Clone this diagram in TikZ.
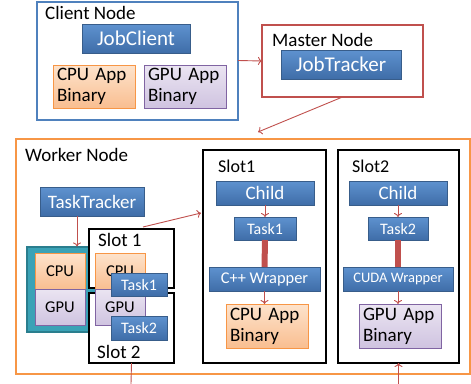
\documentclass[tikz,border=0pt]{standalone}
\usepackage{fontspec}
\setmainfont{Carlito}
\usetikzlibrary{arrows.meta,shadows}
\definecolor{bluef}{HTML}{4F81BD}
\definecolor{bluet}{HTML}{5E92CF}
\definecolor{blueb}{HTML}{3F6DA8}
\definecolor{bluedraw}{HTML}{385D8A}
\definecolor{redl}{HTML}{C0504D}
\definecolor{orl}{HTML}{F79646}
\definecolor{ort}{HTML}{FDE3CC}
\definecolor{orb}{HTML}{F9BE90}
\definecolor{pul}{HTML}{8064A2}
\definecolor{put}{HTML}{EBE5F2}
\definecolor{pub}{HTML}{CFC3E0}
\definecolor{tealf}{HTML}{3AA2B6}
\definecolor{teald}{HTML}{2A7E8E}
\tikzset{
  x=1pt, y=-1pt,
  box/.style={rectangle, inner sep=0pt, outer sep=0pt, minimum width=#1},
  frame/.style={rectangle, inner sep=0pt, outer sep=0pt, line width=2pt, fill=white},
  bluebox/.style={rectangle, inner sep=0pt, outer sep=0pt, draw=bluedraw, line width=0.8pt,
    top color=bluet, bottom color=blueb, text=white,
    drop shadow={shadow xshift=1.2pt, shadow yshift=-1.2pt, opacity=0.35}},
  orbox/.style={rectangle, inner sep=0pt, outer sep=0pt, draw=orl, line width=0.8pt,
    top color=ort, bottom color=orb, text=black},
  pubox/.style={rectangle, inner sep=0pt, outer sep=0pt, draw=pul, line width=0.8pt,
    top color=put, bottom color=pub, text=black},
  binbox/.style={align=left, text width=#1, font=\fontsize{19}{21}\selectfont},
  lbl/.style={anchor=base west, inner sep=0pt, font=\fontsize{19}{22}\selectfont},
  arr/.style={draw=redl, line width=0.9pt, -{To[length=4pt,width=8pt]}},
  ln/.style={draw=redl, line width=0.9pt},
}
\begin{document}
\begin{tikzpicture}
\useasboundingbox (0,0) rectangle (471,383);
% Client node
\node[frame, draw=bluef, minimum width=201, minimum height=118] (client) at (137.5,60.5) {};
\node[lbl] (clientlbl) at (45,19) {Client Node};
\node[bluebox, minimum width=108, minimum height=29, font=\fontsize{21}{24}\selectfont] (jobclient) at (136,38.5) {JobClient};
\node[orbox, minimum width=82, minimum height=43, binbox=74pt] (cpuA) at (94,86.5) {CPU App\\Binary};
\node[pubox, minimum width=82, minimum height=43, binbox=74pt] (gpuA) at (185,86.5) {GPU App\\Binary};
% Master node
\node[frame, draw=redl, minimum width=161, minimum height=72] (master) at (342.5,61) {};
\node[lbl] (masterlbl) at (272,46) {Master Node};
\node[bluebox, minimum width=120, minimum height=29, font=\fontsize{21}{24}\selectfont] (jobtracker) at (341,64.5) {JobTracker};
% Worker node
\node[frame, draw=orl, minimum width=454, minimum height=235] (worker) at (243,256.5) {};
\node[lbl] (workerlbl) at (25,161) {Worker Node};
\node[bluebox, minimum width=104, minimum height=29, font=\fontsize{19}{22}\selectfont] (tt) at (92,201.5) {TaskTracker};
% teal machine
\node[rectangle, draw=teald, fill=tealf, line width=1.2pt, minimum width=123, minimum height=85, inner sep=0pt] (teal) at (88.5,289.5) {};
\node[orbox, minimum width=50, minimum height=36, font=\fontsize{16.5}{18}\selectfont] (cpuL) at (60,271) {CPU};
\node[pubox, minimum width=50, minimum height=36, font=\fontsize{16.5}{18}\selectfont] (gpuL) at (60,307) {GPU};
% small slots
\node[frame, draw=black, minimum width=85, minimum height=59] (slot1s) at (131.5,258.5) {};
\node[frame, draw=black, minimum width=85, minimum height=70] (slot2s) at (131.5,328) {};
\node[lbl] (slot1lbl) at (98,246) {Slot 1};
\node[lbl] (slot2lbl) at (97,358) {Slot 2};
\node[orbox, minimum width=50, minimum height=36, font=\fontsize{16.5}{18}\selectfont] (cpuR) at (120,271) {CPU};
\node[pubox, minimum width=50, minimum height=36, font=\fontsize{16.5}{18}\selectfont] (gpuR) at (120,307) {GPU};
\node[bluebox, minimum width=56, minimum height=23, font=\fontsize{16}{18}\selectfont] (task1s) at (139,284.5) {Task1};
\node[bluebox, minimum width=56, minimum height=24, font=\fontsize{16}{18}\selectfont] (task2s) at (139,328) {Task2};
% big slot 1
\node[frame, draw=black, minimum width=123, minimum height=213] (bs1) at (264.5,256.5) {};
\node[lbl, font=\fontsize{18}{21}\selectfont] (bs1lbl) at (218,172) {Slot1};
\node[bluebox, minimum width=98, minimum height=24, font=\fontsize{19}{22}\selectfont] (child1) at (265,193) {Child};
\node[bluebox, minimum width=62, minimum height=23, font=\fontsize{16}{18}\selectfont] (task1b) at (265,228.5) {Task1};
\node[bluebox, minimum width=111, minimum height=24, font=\fontsize{16.4}{18}\selectfont] (wrap1) at (264.5,279) {C++ Wrapper};
\node[orbox, minimum width=82, minimum height=44, binbox=74pt] (bin1) at (267,326) {CPU App\\Binary};
% big slot 2
\node[frame, draw=black, minimum width=121, minimum height=213] (bs2) at (398.5,256.5) {};
\node[lbl, font=\fontsize{18}{21}\selectfont] (bs2lbl) at (352,172) {Slot2};
\node[bluebox, minimum width=98, minimum height=24, font=\fontsize{19}{22}\selectfont] (child2) at (398,193) {Child};
\node[bluebox, minimum width=60, minimum height=23, font=\fontsize{16}{18}\selectfont] (task2b) at (398,228.5) {Task2};
\node[bluebox, minimum width=110, minimum height=24, font=\fontsize{14.5}{17}\selectfont] (wrap2) at (398,279) {CUDA Wrapper};
\node[pubox, minimum width=82, minimum height=44, binbox=74pt] (bin2) at (400,326) {GPU App\\Binary};
% connectors
\coordinate (mdst) at (258,132);
\coordinate (s1src) at (143,227);
\coordinate (s1dst) at (201,213);
\coordinate (botL) at (131,384);
\coordinate (botR) at (398.5,384);
\draw[arr] (client.east) -- (master.west);
\draw[arr] (master.south) -- (mdst);
\draw[arr] ([xshift=-15pt]tt.south) -- ([xshift=-15pt]tt.south |- teal.north);
\draw[arr] (s1src) -- (s1dst);
\draw[arr] (child1.south) -- (task1b.north);
\draw[redl, line width=6pt] (task1b.south) -- (wrap1.north);
\draw[arr] (wrap1.south) -- (wrap1.south |- bin1.north);
\draw[arr] (child2.south) -- (task2b.north);
\draw[redl, line width=6pt] (task2b.south) -- (wrap2.north);
\draw[arr] (wrap2.south) -- (wrap2.south |- bin2.north);
\draw[ln] (slot2s.south) -- (botL);
\draw[arr] (botR) -- (bs2.south);
\end{tikzpicture}
\end{document}
